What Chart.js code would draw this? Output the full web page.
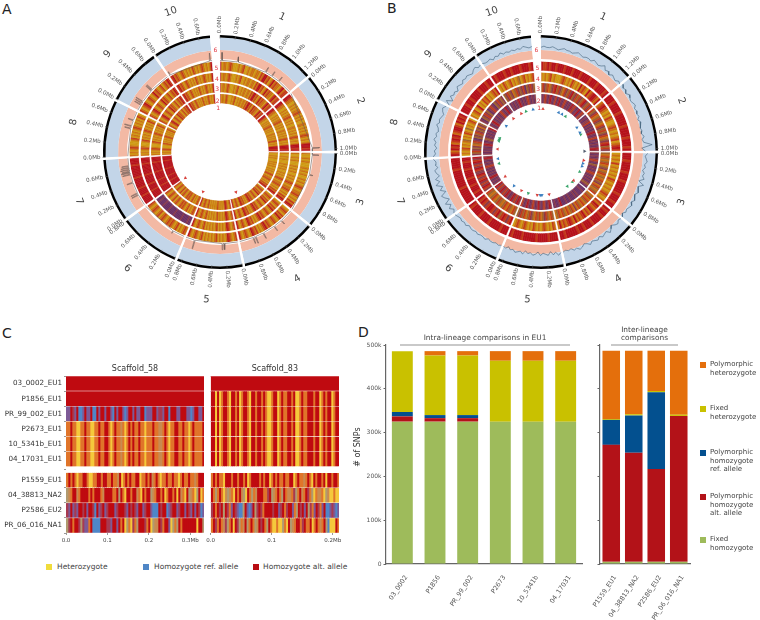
<!DOCTYPE html>
<html>
<head>
<meta charset="utf-8">
<script src="https://cdn.jsdelivr.net/npm/chart.js@4"></script>
<style>
body { margin: 0; background: #fff; font-family: "DejaVu Sans", sans-serif; color: #333; }
#page { position: relative; width: 760px; height: 620px; overflow: hidden; }
canvas { position: absolute; }
.soft { filter: blur(0.35px); }
.letter { position: absolute; font-size: 14px; color: #222; line-height: 14px; }
.lg { position: absolute; font-size: 7px; line-height: 8.7px; color: #444; white-space: nowrap; }
.lgc { position: absolute; font-size: 7.5px; line-height: 9px; color: #444; white-space: nowrap; }
.sq { position: absolute; width: 6px; height: 6px; }
</style>
</head>
<body>
<div id="page">
  <div class="letter" style="left:2px;top:2px">A</div>
  <div class="letter" style="left:387px;top:1px">B</div>
  <div class="letter" style="left:2px;top:326px">C</div>
  <div class="letter" style="left:358px;top:325px">D</div>

  <canvas id="ringsA" class="soft" width="400" height="304" style="left:20px;top:0"></canvas>
  <canvas id="traceA" width="400" height="304" style="left:20px;top:0"></canvas>
  <canvas id="ringsB" class="soft" width="400" height="304" style="left:341px;top:0"></canvas>
  <canvas id="traceB" width="400" height="304" style="left:341px;top:0"></canvas>

  <canvas id="heat58" width="210" height="189" style="left:0;top:360px"></canvas>
  <canvas id="heat83" width="146" height="189" style="left:204px;top:360px"></canvas>

  <canvas id="barsIntra" width="240" height="300" style="left:350px;top:320px"></canvas>
  <canvas id="barsInter" width="120" height="300" style="left:580px;top:320px"></canvas>

  <div class="sq" style="left:46px;top:564px;background:#f0dc3c"></div>
  <div class="lgc" style="left:57px;top:562px">Heterozygote</div>
  <div class="sq" style="left:143px;top:564px;background:#4f86c6"></div>
  <div class="lgc" style="left:154px;top:562px">Homozygote ref. allele</div>
  <div class="sq" style="left:253px;top:564px;background:#b80d12"></div>
  <div class="lgc" style="left:263px;top:562px">Homozygote alt. allele</div>

  <div class="sq" style="left:700px;top:362px;background:#e46f0c"></div>
  <div class="lg" style="left:710px;top:360px">Polymorphic<br>heterozygote</div>
  <div class="sq" style="left:700px;top:406px;background:#c9c100"></div>
  <div class="lg" style="left:710px;top:404px">Fixed<br>heterozygote</div>
  <div class="sq" style="left:700px;top:450px;background:#03508f"></div>
  <div class="lg" style="left:710px;top:448px">Polymorphic<br>homozygote<br>ref. allele</div>
  <div class="sq" style="left:700px;top:494px;background:#b31218"></div>
  <div class="lg" style="left:710px;top:492px">Polymorphic<br>homozygote<br>alt. allele</div>
  <div class="sq" style="left:700px;top:537px;background:#9ebb5b"></div>
  <div class="lg" style="left:710px;top:535px">Fixed<br>homozygote</div>
</div>

<script>
// Scaffolds of the circular plots (Mb)
var scaffoldNames = ['1', '2', '3', '4', '5', '6', '7', '8', '9', '10'];
var scaffoldLengths = [1.29, 1.03, 1.0, 0.99, 0.86, 0.81, 0.82, 0.75, 0.74, 0.75];
var scaffoldGap = 0.034;
var lastGap = 0.13;
var tickLabels = ['0.0Mb', '0.2Mb', '0.4Mb', '0.6Mb', '0.8Mb', '1.0Mb', '1.2Mb'];
var tickCounts = [7, 6, 5, 5, 5, 5, 4, 4, 4, 4];
var trackNumbers = ['1', '2', '3', '4', '5', '6'];

// Heat tracks, one letter per window, one string per scaffold
var heatColors = { a: '#b5121b', b: '#c23a1a', c: '#c96f12', d: '#cf9a14', e: '#6a2f62', f: '#8c3a48', g: '#a0622c' };
var heatA = [
    'adccdcbcdddcdcbddcdccdccdbcaacbdcacbccdbacbb',
    'aabccddcdcdccbcdcdcddccdcdcdcbcdcdcaaaba',
    'cddcdcdddcdcdcddcdcdcbcdccbcdcdbcab',
    'dcbcdbcacdcbcdcbcabcdcdbcbacdcbcdca',
    'bcdcbacdcdcdbcdcdcdcdbcdcbcdca',
    'cbcdcdbcdcbcbcdcbcdbcdcbcdcb',
    'aaaaabaaaabaaaaaabaaaaaaabaaaa',
    'cdcdcbcdddcbdcdcdcbcdcdcdbcd',
    'bcdcbacdcbcdcacbcdcbdcbcab',
    'bacbcdcbcdcdcdbcdcdcbcdcdca'
];
var heatA4 = heatA.slice(0, 5).concat(['eefeeeefeeeeefeeeefeeeefeeefee']).concat(heatA.slice(6));

var heatB5 = [
    'abbabaabaaabaaabaaabaaaabaaabaaaaba', 'aaabaaaabaaaaabaaaabaaaba', 'aaabaaaabaaabaaaaabaaabaa',
    'abaabaaaabaaabaabaaaaabaa', 'aaaabaaaaabaaaaaabaaaaba', 'aaabaaaaabaaaabaaaaba',
    'aaaaaaabaaaaaaaabaaaaa', 'abcabacbabacbaabcababa', 'aaabaabaaaabaaabaa', 'abaaabaabaaabaaaba'
];
var heatB4 = [
    'cdcdcbdcdddcbcdcdbcdcdacbcdacbaabca', 'cbabcdcdbcddcbcdcdcbdcbab', 'dcdcdbdcdcdcdbcdcdcdcbcdc',
    'bcabcbacbcabcbcacbabcbcac', 'cbdcdcbcdcdcbdcdcbcdcbcd', 'abfbabgabfbaabfbaba',
    'aabaaabaaabaaaabaaabaa', 'dcdcbdcdcgdcdbcdgdcdcbd', 'cdcbdcadcdbcbdcdcbca', 'dcdbcdcbdcdcgdcbdcdcb'
];
var heatB3 = [
    'gbfgbcgfbagbfgcbfgbfagfbgbfgbafgbfb', 'bgfbcgbfgcbfgbgfbcgfbagbf', 'gcbgcgbcgfcgbcgcbgfcbgcgb',
    'cgbcbgcbcgbcfcbgcbcgbcbgc', 'gbcgbfgcbgbcgfbgcbgbfg', 'gbcgbcbgcgbgcbgcgb',
    'fbafbfabfbaffbafbfabfa', 'fgbfgfcgbfegfgbfgfcfg', 'fegfbfgefbfegfbfgf', 'gfbgfcgbfgfbegfbfg'
];
var heatB2 = [
    'fefbfefafefbefafefbfefefafbfefaefbf', 'efeffbefefefafefbefefefaf', 'fefefbfegfefefbfefefefgfe',
    'eefeeefefeeefeefeeeafeefe', 'fafefbfefafefbfefafefb', 'fafbfafefafbfafbfa',
    'fefefafefefefbfefefaf', 'fefefefafefgfefefefa', 'fefafefefefbfefaef', 'efefefafefefbfefef'
];

// Coverage trace of A: spikes per scaffold as [position Mb, height]
var spikesA = [
    [[0.03, 0.9], [0.29, 0.6], [0.78, 0.6], [0.9, 0.6], [1.04, 0.6]],
    [[0.98, 0.8]],
    [[0.03, 0.7], [0.36, 0.35]],
    [[0.22, 0.5], [0.37, 0.6], [0.58, 0.7], [0.72, 0.8], [0.76, 0.7]],
    [[0.22, 0.7], [0.25, 0.7], [0.71, 1.0]],
    [[0.2, 0.3]],
    [[0.19, 0.8], [0.22, 0.8], [0.41, 0.7], [0.55, 0.9], [0.58, 1.0], [0.6, 0.9], [0.63, 1.0], [0.66, 0.9], [0.69, 0.8]],
    [[0.46, 0.7], [0.5, 0.8], [0.6, 0.6]],
    [[0.1, 0.8], [0.13, 0.8], [0.16, 0.9], [0.39, 0.8], [0.41, 0.8]],
    [[0.02, 0.4], [0.72, 0.9]]
];
var markerDegA = [232.8, 203, 158.4];

// Coverage trace of B: depth along each scaffold, 0 is the salmon edge, 10 the black rim
var coverageB = [
    [5, 6, 5, 5, 6, 5, 4, 5, 6, 5, 5, 4, 5, 6, 5, 4, 5, 5, 4, 6, 5, 4, 5, 7, 4, 5, 3, 5, 4, 3, 5, 4],
    [6, 4, 5, 3, 5, 4, 3, 4, 5, 3, 4, 3, 4, 2, 4, 3, 2, 3, 2, 4, 2, 3, 10, 1, 4],
    [6, 4, 5, 6, 4, 5, 3, 5, 4, 6, 2, 7, 3, 4, 5, 3, 4, 5, 3, 5, 4, 3, 4, 2, 4],
    [4, 3, 5, 4, 2, 4, 6, 3, 4, 5, 3, 5, 4, 3, 5, 3, 2, 4, 5, 3, 4, 2, 3, 2, 3],
    [3, 5, 2, 4, 1, 4, 3, 2, 4, 1, 3, 4, 2, 3, 1, 4, 2, 3, 4, 2, 3, 1, 3, 2],
    [2, 3, 2, 3, 3, 2, 4, 3, 3, 4, 3, 4, 4, 3, 5, 4, 5, 4, 5, 6],
    [6, 4, 7, 4, 8, 3, 6, 8, 3, 7, 4, 9, 5, 8, 4, 6, 7, 4, 6, 5, 7],
    [7, 5, 6, 4, 6, 5, 7, 5, 6, 4, 5, 7, 5, 6, 5, 4, 6, 7, 5],
    [3, 7, 2, 6, 4, 5, 3, 6, 5, 4, 6, 5, 6, 5, 4, 6, 7, 5, 6],
    [6, 5, 5, 6, 4, 6, 5, 7, 5, 6, 5, 6, 5, 6, 5, 7, 6, 5, 6]
];
var markerDegB = [349.5, 2.6, 339.8, 333, 320.6, 307, 288.6, 286.6, 284.7, 273.9, 261, 254.5, 235.4, 218.4, 206.7, 197, 185, 181,
    178.8, 169.2, 142.7, 133.8, 131.4, 117.3, 109.3, 105.5, 101.3, 89, 66, 63.4, 55.6, 34.3, 29, 24];
var markerKindB = ['b', 'r', 'g', 'r', 'r', 'b', 'g', 'g', 'g', 'r', 'b', 'g', 'r', 'b', 'r', 'g', 'r', 'b',
    'b', 'r', 'g', 'g', 'r', 'g', 'b', 'b', 'r', 'k', 'g', 'b', 'b', 'g', 'b', 'b'];
var markerColors = { r: '#d8443f', b: '#3a7ebf', g: '#3aa56b', k: '#555f70' };

// Panel C genotype rows, one letter per window
var genotypeColors = { R: '#bf0a10', O: '#e0752a', Y: '#f5c93c', T: '#c98a50', P: '#7d5a96', B: '#4f86c8', M: '#a83a50', G: '#b09a70' };
var sampleNames = ['03_0002_EU1', 'P1856_EU1', 'PR_99_002_EU1', 'P2673_EU1', '10_5341b_EU1', '04_17031_EU1',
    'P1559_EU1', '04_38813_NA2', 'P2586_EU2', 'PR_06_016_NA1'];
var rowPositions = [0, 1, 2, 3, 4, 5, 6.4, 7.4, 8.4, 9.4];
var length58 = 0.3335;
var length83 = 0.2104;
var ticks58 = [0, 0.1, 0.2, 0.3];
var ticks83 = [0, 0.1, 0.2];
var fixed58 = 'OOROOYYOOROOYYOOROORROYOROOTOYOROROOROOYOOOROOTTOROYOORROOROOYOROOOOR';
var rows58 = [
    'R',
    'R',
    'PPRMPRBBPRPPRBBRPRRPRRPBRPRRPBPRRPRPPRRBPPPRRPMMPRRBRRRPPRRRPPBPRRPPR',
    fixed58,
    fixed58,
    fixed58,
    'OROROYOORROYYOORRORROOROOTRYOROROORRYOORORTOROYOOROOROOYOROOROOTORRR',
    'GTORRTORRRRORORRROTRRRROORGROYRRORRTOYRORRGTORRORYORRORYRTOYRGTOYGRYO',
    'MPRPMPRRMRPRRMBRPMRPMRRRPMRRRMPRMRMPRRPMRRPBBBRMRRBPMRRPMRRPRMPRPRMBP',
    'GMRORRMGMPPORBBBBRRRMMPRRPRORYGOYMOGRRRMORYGTTRMORRPYGOGRORRRRRRRYRRG'
];
var fixed83 = 'RRYRYORROYRRORYORROYRRORROROYYORRYOROORRORYYOROORRRORRYORORRYORR';
var rows83 = [
    'R',
    fixed83,
    fixed83,
    fixed83,
    fixed83,
    fixed83,
    'OROROOYRRRORRORRORYORRRRORORRYOROROOROORRYOROOTOROYRORRORYRRORRO',
    'ROGOROYTGTOYRORTGYROGOTRRROOMRGTOROGROTTOMGORTORMOGYOTTOYGTYYOYY',
    'MRORMRGRMOPRMPBBGRPBPRGMRMORRRRMRRPMROMRRPOGRMRPRGMOPRMOPRBBPMPBP',
    'ORMOROTMGORYRMGOTRGOROGTRMROGROYYOYYGOYRGTORROMROORYOROTORGBYYYRO'
];

// Panel D stacked bars
var intraNames = ['03_0002', 'P1856', 'PR_99_002', 'P2673', '10_5341b', '04_17031'];
var intraFixedHomo = [325000, 325000, 325000, 325000, 325000, 325000];
var intraPolyAlt = [12000, 8000, 8000, 0, 0, 0];
var intraPolyRef = [10000, 7000, 7000, 0, 0, 0];
var intraFixedHet = [139000, 136000, 136000, 139000, 139000, 139000];
var intraPolyHet = [0, 10000, 10000, 22000, 22000, 22000];
var interNames = ['P1559_EU1', '04_38813_NA2', 'P2586_EU2', 'PR_06_016_NA1'];
var interFixedHomo = [5000, 5000, 5000, 5000];
var interPolyAlt = [267000, 249000, 212000, 333000];
var interPolyRef = [57000, 85000, 175000, 0];
var interFixedHet = [2000, 3000, 3000, 3000];
var interPolyHet = [156000, 145000, 92000, 146000];
var yTicks = { 0: '0', 100000: '100k', 200000: '200k', 300000: '300k', 400000: '400k', 500000: '500k' };

var fontName = '"DejaVu Sans", sans-serif';
var genomeTotal = 0;
var scaffoldStarts = [];
scaffoldLengths.forEach(function (len, i) {
    scaffoldStarts.push(genomeTotal);
    genomeTotal += len + (i === scaffoldLengths.length - 1 ? lastGap : scaffoldGap);
});

function gapOf(i) {
    return i === scaffoldLengths.length - 1 ? lastGap : scaffoldGap;
}

function solidRing(color, weight) {
    var data = [], colors = [];
    scaffoldLengths.forEach(function (len, i) {
        data.push(len, gapOf(i));
        colors.push(color, '#ffffff');
    });
    return { data: data, backgroundColor: colors, weight: weight, borderWidth: 0 };
}

function heatRing(strings, weight) {
    var data = [], colors = [];
    strings.forEach(function (s, i) {
        var bin = scaffoldLengths[i] / s.length;
        s.split('').forEach(function (k) {
            data.push(bin);
            colors.push(heatColors[k]);
        });
        data.push(gapOf(i));
        colors.push('#ffffff');
    });
    // same colour border closes the hairlines between neighbouring windows
    return { data: data, backgroundColor: colors, borderColor: colors, borderWidth: 0.6, weight: weight };
}

function spacer(weight) {
    return { data: [1], backgroundColor: ['#ffffff'], weight: weight, borderWidth: 0 };
}

function drawRings(id, t5, t4, t3, t2) {
    new Chart(document.getElementById(id), {
        type: 'doughnut',
        data: {
            datasets: [
                solidRing('#000000', 2.5),
                solidRing('#c3d5e8', 12.5),
                solidRing('#f3b9a4', 9),
                spacer(2.5),
                heatRing(t5, 8.8),
                spacer(2.2),
                heatRing(t4, 8.5),
                spacer(2),
                heatRing(t3, 9),
                spacer(2),
                heatRing(t2, 9)
            ]
        },
        options: {
            responsive: false,
            animation: false,
            events: [],
            radius: 117,
            cutout: '41.88%',
            plugins: { legend: { display: false }, tooltip: { enabled: false } }
        }
    });
}

function polar(s, pos, r) {
    var a = (scaffoldStarts[s] + pos) / genomeTotal * 2 * Math.PI;
    return { x: r * Math.sin(a), y: r * Math.cos(a) };
}

function degOf(s, pos) {
    return (scaffoldStarts[s] + pos) / genomeTotal * 360;
}

// Tick labels, scaffold names and track numbers
var circleText = {
    id: 'circleText',
    afterDatasetsDraw: function (chart) {
        var ctx = chart.ctx, sx = chart.scales.x, sy = chart.scales.y;
        ctx.save();
        ctx.textBaseline = 'middle';
        function put(text, p, rot, align, font, color) {
            ctx.save();
            ctx.translate(sx.getPixelForValue(p.x), sy.getPixelForValue(p.y));
            ctx.rotate(rot * Math.PI / 180);
            ctx.textAlign = align;
            ctx.font = font;
            ctx.fillStyle = color;
            ctx.fillText(text, 0, 0);
            ctx.restore();
        }
        scaffoldLengths.forEach(function (len, s) {
            for (var t = 0; t < tickCounts[s]; t++) {
                var pos = t * 0.2;
                var d = degOf(s, pos);
                var right = d < 180;
                put(tickLabels[t], polar(s, pos, 122.5), right ? d - 90 : d + 90, right ? 'left' : 'right', '5.6px ' + fontName, '#5a5a5a');
            }
            var mid = degOf(s, len / 2);
            var rot = mid < 90 ? mid : (mid < 270 ? mid - 180 : mid - 360);
            put(scaffoldNames[s], polar(s, len / 2, 153), rot, 'center', '10px ' + fontName, '#444');
        });
        var radii = [44.7, 52.7, 64.6, 75, 86.3, 105];
        trackNumbers.forEach(function (n, i) {
            var a = 357.5 * Math.PI / 180;
            put(n, { x: radii[i] * Math.sin(a), y: radii[i] * Math.cos(a) }, 0, 'center', '6px ' + fontName, '#e0323c');
        });
        ctx.restore();
    }
};

function drawTraces(id, halfH, lines, lineColor, degs, colors) {
    var datasets = lines.map(function (pts) {
        return { data: pts, showLine: true, pointRadius: 0, borderColor: lineColor, borderWidth: 0.6, tension: 0 };
    });
    var tickPts = [], tickRot = [];
    scaffoldLengths.forEach(function (len, s) {
        for (var t = 0; t < tickCounts[s]; t++) {
            tickPts.push(polar(s, t * 0.2, 118.8));
            tickRot.push(degOf(s, t * 0.2) - 90);
        }
    });
    datasets.push({
        data: tickPts, showLine: false, pointStyle: 'line', pointRadius: 1.6,
        pointRotation: tickRot, pointBorderColor: '#555', pointBorderWidth: 0.6
    });
    datasets.push({
        data: degs.map(function (d) {
            var a = d * Math.PI / 180;
            return { x: 44.5 * Math.sin(a), y: 44.5 * Math.cos(a) };
        }),
        showLine: false, pointStyle: 'triangle', pointRadius: 2, pointRotation: degs,
        pointBackgroundColor: colors, pointBorderColor: colors, pointBorderWidth: 0
    });
    new Chart(document.getElementById(id), {
        type: 'scatter',
        data: { datasets: datasets },
        options: {
            responsive: false,
            animation: false,
            events: [],
            layout: { padding: 0 },
            scales: {
                x: { type: 'linear', display: false, min: -200, max: 200 },
                y: { type: 'linear', display: false, min: -halfH, max: halfH }
            },
            plugins: { legend: { display: false }, tooltip: { enabled: false } }
        },
        plugins: [circleText]
    });
}

function spikeLines(spikes, base, scale) {
    return spikes.map(function (list, s) {
        var pts = [polar(s, 0, base)];
        list.forEach(function (sp) {
            pts.push(polar(s, sp[0] - 0.007, base));
            pts.push(polar(s, sp[0] - 0.004, base + sp[1] * scale));
            pts.push(polar(s, sp[0] + 0.004, base + sp[1] * scale));
            pts.push(polar(s, sp[0] + 0.007, base));
        });
        pts.push(polar(s, scaffoldLengths[s], base));
        return pts;
    });
}

function depthLines(depths) {
    return depths.map(function (vals, s) {
        return vals.map(function (v, i) {
            return polar(s, scaffoldLengths[s] * i / (vals.length - 1), 102 + v * 1.2);
        });
    });
}

drawRings('ringsA', heatA, heatA4, heatA, heatA);
drawTraces('traceA', 152, spikeLines(spikesA, 94.5, 9), '#6a5a55', markerDegA, ['#d8443f', '#d8443f', '#d8443f']);

drawRings('ringsB', heatB5, heatB4, heatB3, heatB2);
drawTraces('traceB', 152, depthLines(coverageB), '#3f5f78', markerDegB, markerKindB.map(function (k) { return markerColors[k]; }));

// Scale margins for half labels would shift the plot area, the layout here is fixed
function noMargins(axis) {
    axis.paddingLeft = 0;
    axis.paddingRight = 0;
    axis.paddingTop = 0;
    axis.paddingBottom = 0;
}

// Caption centred over the plot area, with an optional bracket line and axis title
var plotNote = {
    id: 'plotNote',
    afterDraw: function (chart, args, opts) {
        if (!opts.lines) {
            return;
        }
        var ctx = chart.ctx, area = chart.chartArea;
        var mid = opts.to ? (opts.from + opts.to) / 2 : (area.left + area.right) / 2;
        ctx.save();
        if (opts.to) {
            ctx.strokeStyle = '#666';
            ctx.lineWidth = 0.7;
            ctx.beginPath();
            ctx.moveTo(opts.from, area.top);
            ctx.lineTo(opts.to, area.top);
            ctx.stroke();
        }
        ctx.fillStyle = opts.color;
        ctx.font = opts.size + 'px ' + fontName;
        ctx.textAlign = 'center';
        ctx.textBaseline = 'middle';
        opts.lines.forEach(function (line, i) {
            ctx.fillText(line, mid, area.top - 6.7 - (opts.lines.length - 1 - i) * 8.6);
        });
        if (opts.yTitle) {
            ctx.translate(8, area.top + 102);
            ctx.rotate(-Math.PI / 2);
            ctx.font = '8px ' + fontName;
            ctx.fillStyle = '#333';
            ctx.fillText(opts.yTitle, 0, 0);
        }
        ctx.restore();
    }
};

// Panel C: every window is one stacked bar segment per row
function drawHeat(id, rows, total, tickVals, title, yWidth, rightPad) {
    var longest = 0;
    rows.forEach(function (r) { longest = Math.max(longest, r.length); });
    var datasets = [];
    for (var i = 0; i < longest; i++) {
        var data = [], colors = [];
        rows.forEach(function (r, j) {
            if (i < r.length) {
                data.push({ x: total / r.length, y: rowPositions[j] });
                colors.push(genotypeColors[r.charAt(i)]);
            }
        });
        datasets.push({ data: data, backgroundColor: colors, borderWidth: 0, barThickness: 13.9 });
    }
    new Chart(document.getElementById(id), {
        type: 'bar',
        data: { datasets: datasets },
        options: {
            indexAxis: 'y',
            responsive: false,
            animation: false,
            events: [],
            layout: { padding: { top: 16, right: rightPad } },
            scales: {
                x: {
                    type: 'linear',
                    stacked: true,
                    min: 0,
                    max: total,
                    grid: { drawOnChartArea: false, color: '#555', tickLength: 2, lineWidth: 0.6 },
                    border: { display: false },
                    afterBuildTicks: function (axis) {
                        axis.ticks = tickVals.map(function (v) { return { value: v }; });
                    },
                    afterFit: function (axis) { axis.height = 16; noMargins(axis); },
                    ticks: {
                        autoSkip: false,
                        maxRotation: 0,
                        font: { size: 5.5, family: fontName },
                        color: '#444',
                        padding: 2,
                        callback: function (v, idx) {
                            return idx === tickVals.length - 1 && idx > 0 ? v.toFixed(1) + 'Mb' : v.toFixed(1);
                        }
                    }
                },
                y: {
                    type: 'linear',
                    stacked: true,
                    reverse: true,
                    offset: false,
                    min: -0.5,
                    max: 9.9,
                    grid: { drawOnChartArea: false, color: '#555', tickLength: yWidth > 10 ? 2 : 0, lineWidth: 0.6 },
                    border: { display: false },
                    afterBuildTicks: function (axis) {
                        axis.ticks = rowPositions.map(function (v) { return { value: v }; });
                    },
                    afterFit: function (axis) { axis.width = yWidth; noMargins(axis); },
                    ticks: {
                        autoSkip: false,
                        display: yWidth > 10,
                        font: { size: 7.2, family: fontName },
                        color: '#333',
                        padding: 2,
                        callback: function (v) { return sampleNames[rowPositions.indexOf(v)]; }
                    }
                }
            },
            plugins: {
                legend: { display: false },
                tooltip: { enabled: false },
                plotNote: { lines: [title], size: 8, color: '#333' }
            }
        },
        plugins: [plotNote]
    });
}

drawHeat('heat58', rows58, length58, ticks58, 'Scaffold_58', 66, 6);
drawHeat('heat83', rows83, length83, ticks83, 'Scaffold_83', 6.7, 11);

function barSets(homo, alt, ref, het, polyHet) {
    return [
        { label: 'Fixed homozygote', data: homo, backgroundColor: '#9ebb5b' },
        { label: 'Polymorphic homozygote alt. allele', data: alt, backgroundColor: '#b31218' },
        { label: 'Polymorphic homozygote ref. allele', data: ref, backgroundColor: '#03508f' },
        { label: 'Fixed heterozygote', data: het, backgroundColor: '#c9c100' },
        { label: 'Polymorphic heterozygote', data: polyHet, backgroundColor: '#e46f0c' }
    ];
}

function drawBars(id, names, sets, yWidth, showLabels, barPct, note, rightPad) {
    new Chart(document.getElementById(id), {
        type: 'bar',
        data: { labels: names, datasets: sets },
        options: {
            responsive: false,
            animation: false,
            events: [],
            layout: { padding: { top: 25, right: rightPad } },
            datasets: { bar: { barPercentage: barPct, categoryPercentage: 1 } },
            scales: {
                x: {
                    stacked: true,
                    grid: { display: false },
                    border: { color: '#666', width: 1.2 },
                    afterFit: function (axis) { axis.height = 56; noMargins(axis); },
                    ticks: {
                        autoSkip: false,
                        minRotation: 56,
                        maxRotation: 56,
                        labelOffset: 4,
                        font: { size: 6.5, family: fontName },
                        color: '#555',
                        padding: 2
                    }
                },
                y: {
                    stacked: true,
                    min: 0,
                    max: 500000,
                    grid: { drawOnChartArea: false, color: '#666', tickLength: 2.5 },
                    border: { color: '#666', width: 1.2 },
                    afterFit: function (axis) { axis.width = yWidth; noMargins(axis); },
                    ticks: {
                        stepSize: 100000,
                        font: { size: 6, family: fontName },
                        color: '#555',
                        padding: 2,
                        callback: function (v) { return showLabels ? yTicks[v] : ''; }
                    }
                }
            },
            plugins: {
                legend: { display: false },
                tooltip: { enabled: false },
                plotNote: note
            }
        },
        plugins: [plotNote]
    });
}

drawBars('barsIntra', intraNames, barSets(intraFixedHomo, intraPolyAlt, intraPolyRef, intraFixedHet, intraPolyHet),
    36, true, 0.64, { from: 50, to: 220, lines: ['Intra-lineage comparisons in EU1'], size: 7.4, color: '#444', yTitle: '# of SNPs' }, 8);
drawBars('barsInter', interNames, barSets(interFixedHomo, interPolyAlt, interPolyRef, interFixedHet, interPolyHet),
    20, false, 0.78, { from: 31, to: 98, lines: ['Inter-lineage', 'comparisons'], size: 7.4, color: '#444' }, 10);
</script>
</body>
</html>
